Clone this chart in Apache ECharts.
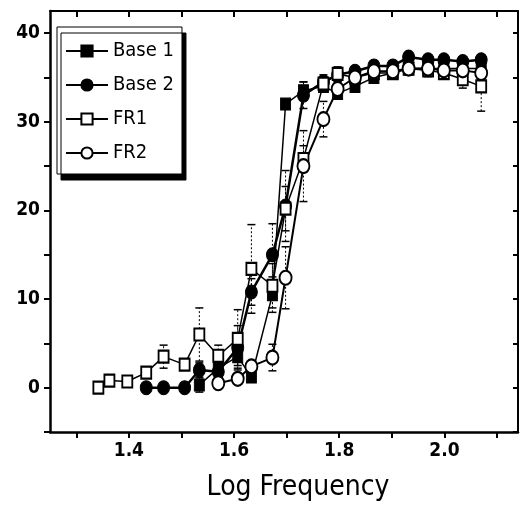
<!DOCTYPE html>
<html><head><meta charset="utf-8">
<script src="https://cdn.jsdelivr.net/npm/echarts@6/dist/echarts.min.js"></script>
<style>html,body{margin:0;padding:0;background:#fff}#c{width:528px;height:514px}</style>
</head><body><div id="c"></div>
<script>
// Log frequency positions of the measurements
const logFreq = [1.342,1.363,1.397,1.433,1.466,1.506,1.534,1.570,1.607,1.633,1.673,1.698,1.732,1.770,1.797,1.830,1.866,1.902,1.932,1.969,1.999,2.035,2.070];
// Series values (null = not measured)
const base1 = [null,null,null,null,null,null,0.3,2.2,3.5,1.2,10.5,32.0,33.5,34.0,33.2,34.0,35.0,35.5,36.0,36.0,36.0,36.0,36.0];
const base2 = [null,null,null,0,0,0,2.0,1.8,4.5,10.8,15.0,20.5,33.0,34.5,35.3,35.7,36.3,36.3,37.3,37.0,37.0,36.8,37.0];
const fr1   = [0,0.8,0.7,1.7,3.5,2.6,6.0,3.6,5.5,13.4,11.5,20.2,25.8,34.3,35.4,35.0,35.5,35.5,36.0,35.8,35.5,34.8,34.0];
const fr2   = [null,null,null,null,null,null,null,0.5,1.0,2.4,3.4,12.4,25.0,30.3,33.7,35.0,35.7,35.7,36.0,36.0,35.8,35.8,35.5];
// Error bar half-lengths
const base1Err = [0,0,0,0,0,0,0.8,0.8,1.0,0.5,2.0,0,1.0,0.5,0.5,0.5,0.5,0.5,0.5,0.5,0.5,0.5,0.5];
const base2Err = [0,0,0,0,0,0,0.8,1.0,2.5,1.5,3.5,4.0,1.5,0.8,0.8,0.5,0.5,0.5,0.5,0.5,0.5,0.5,0.5];
const fr1Err   = [0,0,0,0.5,1.3,0.5,3.0,1.2,3.3,5.0,2.5,2.5,1.5,0.8,0.8,0.8,0.7,0.7,0.7,0.7,0.7,1.0,2.8];
const fr2Err   = [0,0,0,0,0,0,0,0,0.5,0.5,1.5,3.5,4.0,2.0,0.8,0.8,0.7,0.7,0.7,0.7,0.7,0.7,0.7];
const seriesNames = ['Base 1','Base 2','FR1','FR2'];
// Axis ticks and labels
const xTicks = [1.3,1.4,1.5,1.6,1.7,1.8,1.9,2.0,2.1];
const xLabels = [1.4,1.6,1.8,2.0];
const yTicks = [-5,0,5,10,15,20,25,30,35,40];
const yLabels = [0,10,20,30,40];

const FONT = '"DejaVu Sans Condensed","Liberation Sans Narrow",sans-serif';

function pts(vals){
  const out = [];
  logFreq.forEach((x,i)=>{ if(vals[i]!=null) out.push([x, vals[i]]); });
  return out;
}
function errData(vals, errs){
  const out = [];
  logFreq.forEach((x,i)=>{ if(vals[i]!=null && errs[i]>0) out.push([x, vals[i]-errs[i], vals[i]+errs[i]]); });
  return out;
}
function renderErr(params, api){
  const x = api.value(0);
  const lo = api.coord([x, api.value(1)]);
  const hi = api.coord([x, api.value(2)]);
  const w = 4;
  return {type:'group', children:[
    {type:'line', shape:{x1:lo[0],y1:lo[1],x2:hi[0],y2:hi[1]}, style:{stroke:'#000',lineWidth:1,lineDash:[2,2]}},
    {type:'line', shape:{x1:hi[0]-w,y1:hi[1],x2:hi[0]+w,y2:hi[1]}, style:{stroke:'#000',lineWidth:1.5}},
    {type:'line', shape:{x1:lo[0]-w,y1:lo[1],x2:lo[0]+w,y2:lo[1]}, style:{stroke:'#000',lineWidth:1.5}}
  ]};
}
function errSeries(vals, errs){
  return {type:'custom', renderItem:renderErr, data:errData(vals, errs), encode:{x:0,y:[1,2]}, z:1, silent:true};
}

const chart = echarts.init(document.getElementById('c'), null, {renderer:'canvas'});
const axisLineStyle = {color:'#000', width:2.5};
chart.setOption({
  animation:false,
  backgroundColor:'#fff',
  grid:{left:50, right:10, top:11, bottom:82, containLabel:false},
  legend:{
    orient:'vertical', left:57, top:27,
    itemWidth:42, itemHeight:14, itemGap:14,
    data:seriesNames,
    backgroundColor:'#fff', borderColor:'#000', borderWidth:1,
    padding:[14,8,11,8],
    shadowColor:'#000', shadowOffsetX:4, shadowOffsetY:6, shadowBlur:0,
    textStyle:{fontFamily:FONT, fontSize:20, fontWeight:'normal', color:'#000'}
  },
  xAxis:[
    {type:'value', min:1.25, max:2.14, position:'bottom',
     axisLine:{show:true, onZero:false, lineStyle:axisLineStyle},
     axisTick:{show:true, inside:false, length:6, customValues:xTicks, lineStyle:{color:'#000', width:2}},
     axisLabel:{customValues:xLabels, formatter:v=>Number(v).toFixed(1), margin:10,
       fontFamily:FONT, fontSize:19, fontWeight:'bold', color:'#000'},
     splitLine:{show:false},
     name:'Log Frequency', nameLocation:'middle', nameGap:42,
     nameTextStyle:{fontFamily:FONT, fontSize:28, fontWeight:'normal', color:'#000', padding:[0,0,0,28]}},
    {type:'value', min:1.25, max:2.14, position:'top',
     axisLine:{show:true, onZero:false, lineStyle:{color:'#000', width:2}},
     axisTick:{show:true, inside:true, length:6, customValues:xTicks, lineStyle:{color:'#000', width:2}},
     axisLabel:{show:false}, splitLine:{show:false}}
  ],
  yAxis:[
    {type:'value', min:-5, max:42.5, position:'left',
     axisLine:{show:true, onZero:false, lineStyle:axisLineStyle},
     axisTick:{show:true, inside:false, length:6, customValues:yTicks, lineStyle:{color:'#000', width:2}},
     axisLabel:{customValues:yLabels, margin:10,
       fontFamily:FONT, fontSize:19, fontWeight:'bold', color:'#000'},
     splitLine:{show:false}},
    {type:'value', min:-5, max:42.5, position:'right',
     axisLine:{show:true, onZero:false, lineStyle:{color:'#000', width:2}},
     axisTick:{show:true, inside:true, length:5, customValues:yTicks, lineStyle:{color:'#000', width:2}},
     axisLabel:{show:false}, splitLine:{show:false}}
  ],
  series:[
    errSeries(base1, base1Err),
    errSeries(base2, base2Err),
    errSeries(fr1, fr1Err),
    errSeries(fr2, fr2Err),
    {name:'Base 1', type:'line', data:pts(base1), symbol:'rect', symbolSize:[10,12],
     lineStyle:{color:'#000', width:1.5}, itemStyle:{color:'#000', borderColor:'#000', borderWidth:1}, z:3},
    {name:'Base 2', type:'line', data:pts(base2), symbol:'circle', symbolSize:[12,14],
     lineStyle:{color:'#000', width:2.5}, itemStyle:{color:'#000', borderColor:'#000', borderWidth:1}, z:3},
    {name:'FR1', type:'line', data:pts(fr1), symbol:'rect', symbolSize:[10,12],
     lineStyle:{color:'#000', width:1.5}, itemStyle:{color:'#fff', borderColor:'#000', borderWidth:2}, z:4},
    {name:'FR2', type:'line', data:pts(fr2), symbol:'circle', symbolSize:[12,14],
     lineStyle:{color:'#000', width:2}, itemStyle:{color:'#fff', borderColor:'#000', borderWidth:2}, z:4}
  ]
});
</script></body></html>
